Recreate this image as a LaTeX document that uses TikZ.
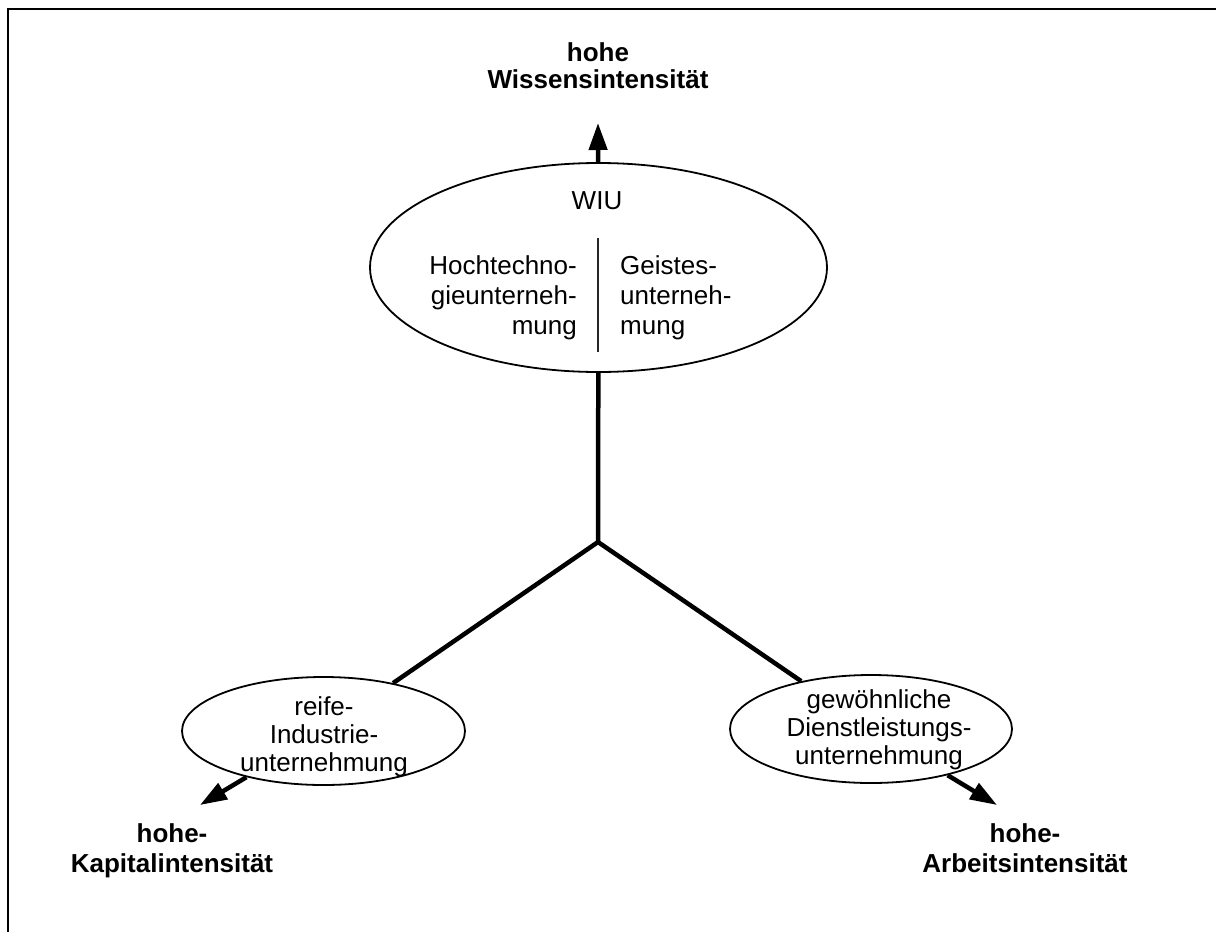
\documentclass[tikz,border=0pt]{standalone}
\usepackage{fontspec}
\setmainfont{Liberation Sans}
\usetikzlibrary{arrows.meta,shapes.geometric}
\begin{document}
\begin{tikzpicture}[x=1pt,y=-1pt,
  ell/.style={draw, ellipse, line width=1.8pt, inner sep=0pt},
  txt/.style={inner sep=0pt, font=\fontsize{26}{30}\selectfont},
  smalltxt/.style={inner sep=0pt, align=center, font=\fontsize{26}{28}\selectfont},
  lbl/.style={inner sep=0pt, align=center, font=\fontsize{26}{30}\selectfont\bfseries},
  axisline/.style={line width=4.5pt, line join=miter},
  arr/.style={line width=4.5pt, -{Triangle[length=27pt,width=18pt]}},
]
\useasboundingbox (0,0) rectangle (1216,932);
\draw[line width=2.7pt] (8,932) -- (8,9) -- (1216,9);

% big ellipse
\node[ell, minimum width=457pt, minimum height=209pt] (wiu) at (598.5,267.5) {};
\node[txt, anchor=base] (wiut) at (597,209) {WIU};
\node[txt, align=right, anchor=north east] (hte) at (577,255) {Hochtechno-\\gieunterneh-\\mung};
\node[txt, align=left, anchor=north west] (geu) at (620,255) {Geistes-\\unterneh-\\mung};
\coordinate (d1) at (598,238);
\coordinate (d2) at (598,352);
\draw[line width=1.3pt, black!85] (d1) -- (d2);

% small ellipses
\node[ell, minimum width=283pt, minimum height=108pt] (riu) at (323.5,731) {};
\node[smalltxt, anchor=north] (riut) at (324,696) {reife-\\Industrie-\\unternehmung};
\node[ell, minimum width=282pt, minimum height=108pt] (gdu) at (871,729) {};
\node[smalltxt, anchor=north] (gdut) at (879,689) {gewöhnliche\\Dienstleistungs-\\unternehmung};

% labels
\node[lbl, anchor=north, font=\fontsize{26}{27.5}\selectfont\bfseries] (top) at (598,42) {hohe\\Wissensintensität};
\node[lbl, anchor=north] (kap) at (172,823) {hohe-\\Kapitalintensität};
\node[lbl, anchor=north] (arb) at (1025,823) {hohe-\\Arbeitsintensität};

% connectors
\coordinate (uptip) at (598,123);
\coordinate (ltip) at (200,805);
\coordinate (rtip) at (997,805);
\coordinate (j) at (598,542);
\draw[arr] (wiu) -- (uptip);
\draw[arr] (riu) -- (ltip);
\draw[arr] (gdu) -- (rtip);
\draw[axisline] (wiu) -- (j);
\draw[axisline] (riu) -- (j) -- (gdu);
\end{tikzpicture}
\end{document}
